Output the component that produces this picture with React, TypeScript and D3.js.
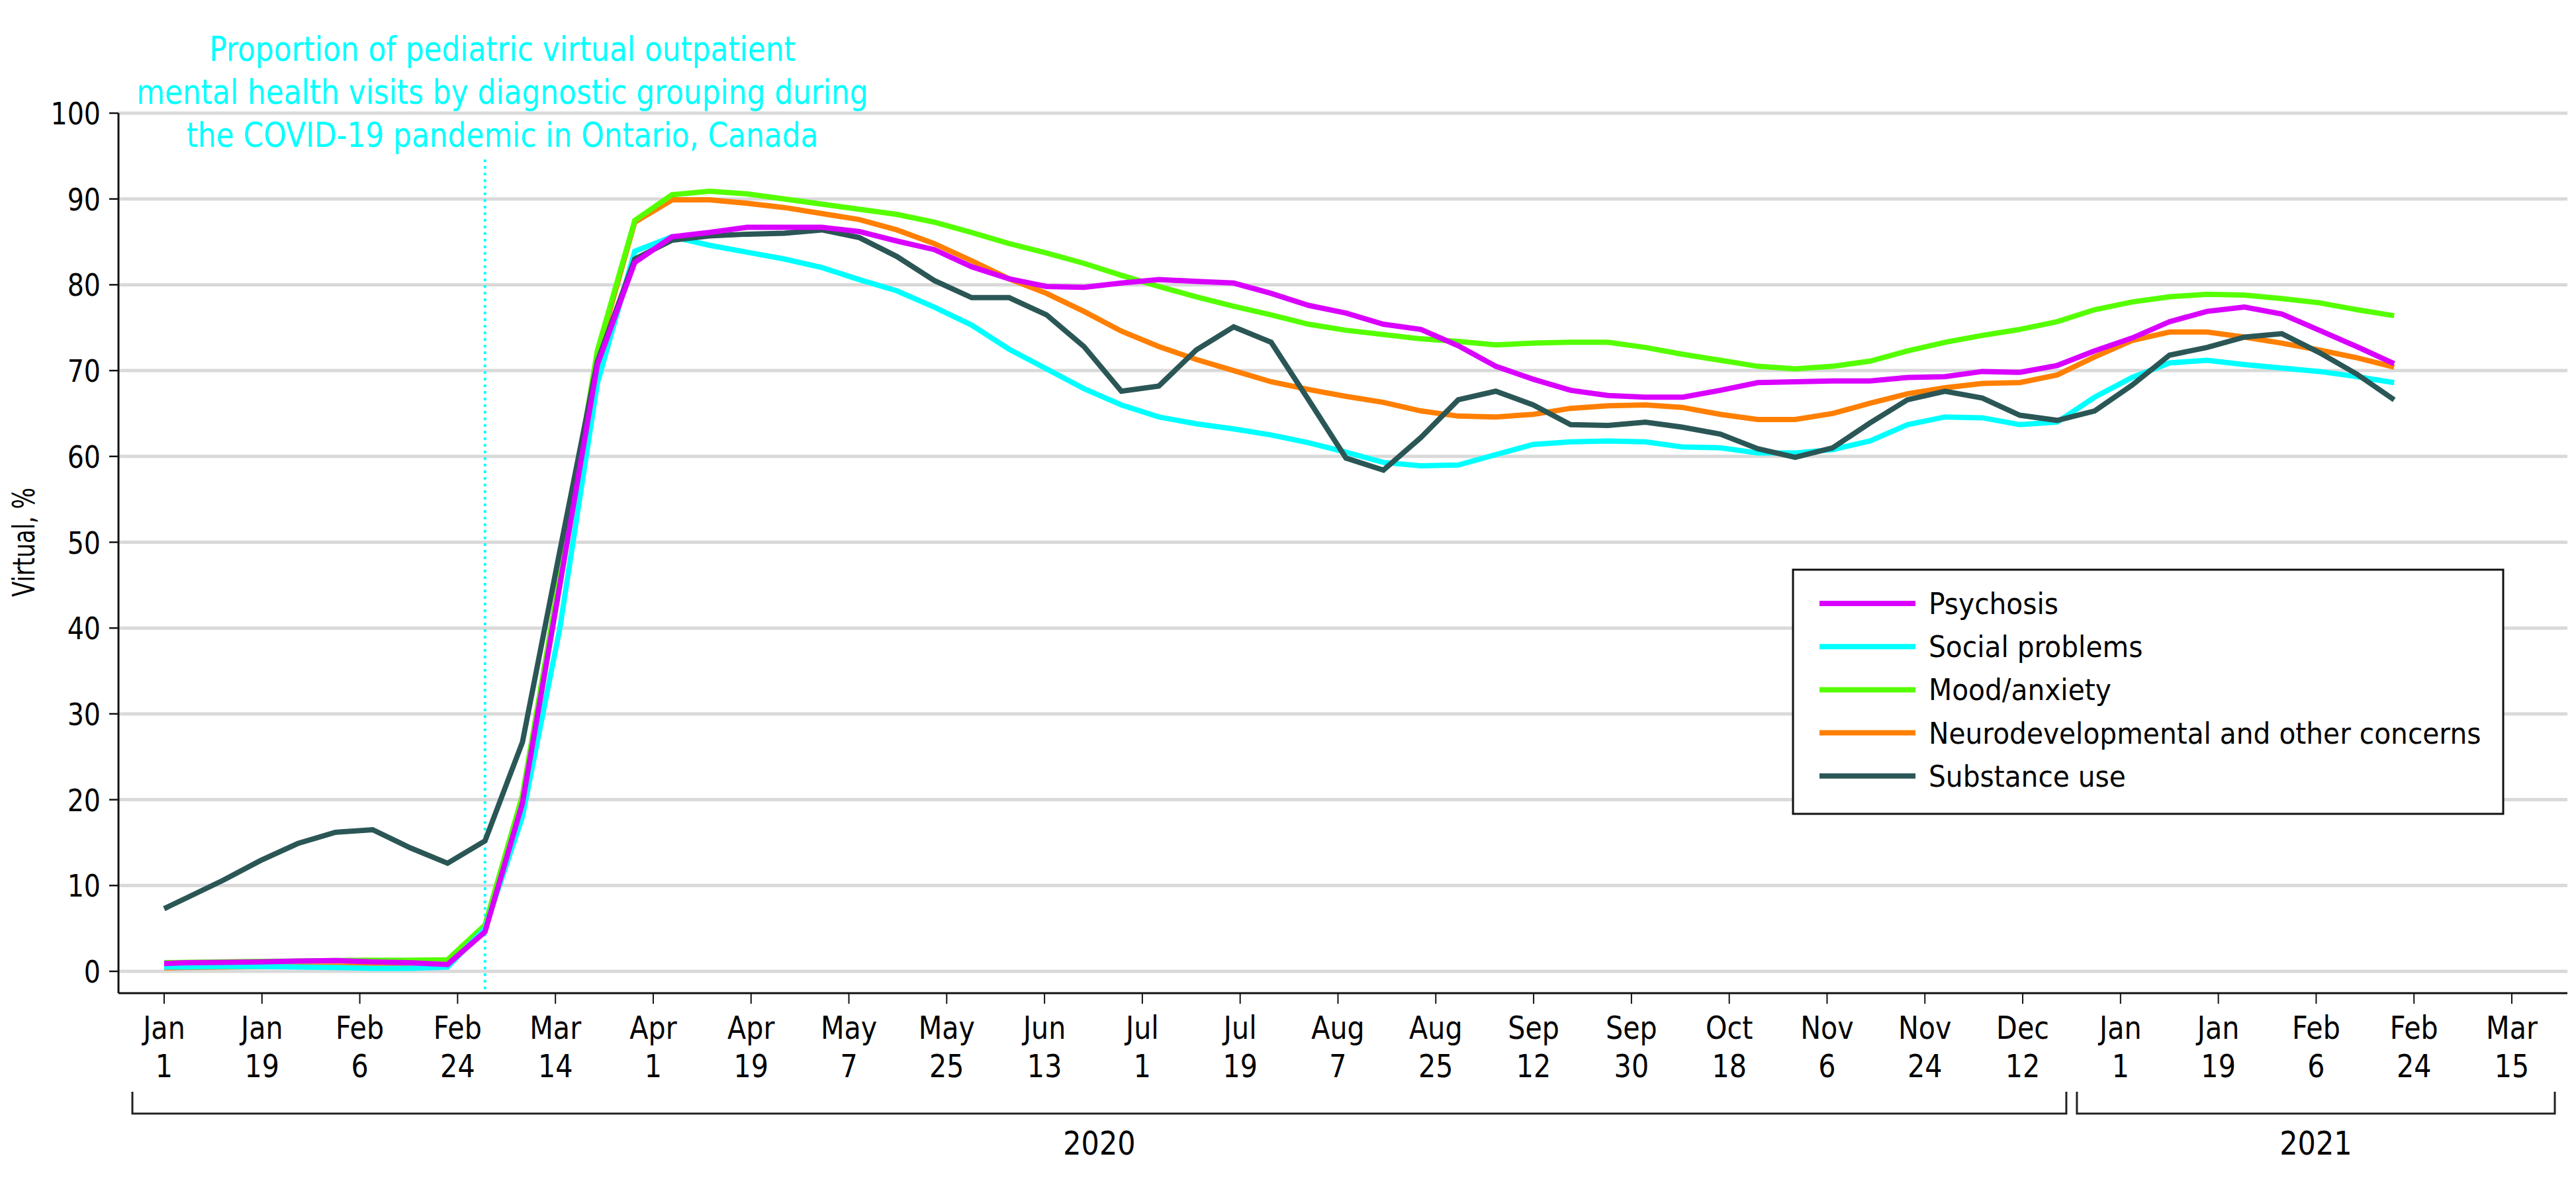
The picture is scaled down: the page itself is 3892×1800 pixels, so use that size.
import React from "react";
import * as d3 from "d3";

const dates = [
  "2020-01-01","2020-01-05","2020-01-12","2020-01-19","2020-01-26","2020-02-02","2020-02-09","2020-02-16","2020-02-23","2020-03-01",
  "2020-03-08","2020-03-15","2020-03-22","2020-03-29","2020-04-05","2020-04-12","2020-04-19","2020-04-26","2020-05-03","2020-05-10",
  "2020-05-17","2020-05-24","2020-05-31","2020-06-07","2020-06-14","2020-06-21","2020-06-28","2020-07-05","2020-07-12","2020-07-19",
  "2020-07-26","2020-08-02","2020-08-09","2020-08-16","2020-08-23","2020-08-30","2020-09-06","2020-09-13","2020-09-20","2020-09-27",
  "2020-10-04","2020-10-11","2020-10-18","2020-10-25","2020-11-01","2020-11-08","2020-11-15","2020-11-22","2020-11-29","2020-12-06",
  "2020-12-13","2020-12-20","2020-12-27","2021-01-03","2021-01-10","2021-01-17","2021-01-24","2021-01-31","2021-02-07","2021-02-14",
  "2021-02-21",
];

const psychosis = [
  0.9,1.0,1.05,1.1,1.2,1.25,1.1,1.0,0.8,4.6,
  19.6,45,70.7,82.6,85.6,86.1,86.7,86.7,86.7,86.2,
  85.1,84.1,82.1,80.7,79.8,79.7,80.2,80.6,80.4,80.2,
  79.0,77.6,76.7,75.4,74.8,72.9,70.5,69.0,67.7,67.1,
  66.9,66.9,67.7,68.6,68.7,68.8,68.8,69.2,69.3,69.9,
  69.8,70.6,72.3,73.8,75.7,76.9,77.4,76.6,74.7,72.8,
  70.8,
];
const socialProblems = [
  0.5,0.5,0.55,0.55,0.5,0.45,0.35,0.35,0.5,5.0,
  18,40,68.5,83.9,85.6,84.6,83.8,83.0,82.0,80.6,
  79.3,77.4,75.3,72.5,70.2,67.9,66.0,64.6,63.8,63.2,
  62.5,61.6,60.5,59.3,58.9,59.0,60.2,61.4,61.7,61.8,
  61.7,61.1,61.0,60.4,60.4,60.8,61.8,63.7,64.6,64.5,
  63.7,64.0,66.9,69.2,70.9,71.2,70.7,70.3,69.9,69.3,
  68.6,
];
const moodAnxiety = [
  1.0,1.05,1.1,1.15,1.2,1.25,1.3,1.3,1.35,5.4,
  20.5,46,72.3,87.5,90.5,90.9,90.6,90.0,89.4,88.8,
  88.2,87.3,86.1,84.8,83.7,82.5,81.1,79.8,78.6,77.5,
  76.5,75.4,74.7,74.2,73.7,73.4,73.0,73.2,73.3,73.3,
  72.7,71.9,71.2,70.5,70.2,70.5,71.1,72.3,73.3,74.1,
  74.8,75.7,77.1,78.0,78.6,78.9,78.8,78.4,77.9,77.1,
  76.4,
];
const neurodevelopmental = [
  0.4,0.45,0.5,0.55,0.6,0.6,0.6,0.6,0.7,5.2,
  20,46,71.8,87.3,89.9,89.9,89.5,89.0,88.3,87.6,
  86.4,84.8,82.8,80.7,79.0,76.9,74.6,72.8,71.3,70.0,
  68.7,67.8,67.0,66.3,65.3,64.7,64.6,64.9,65.6,65.9,
  66.0,65.7,64.9,64.3,64.3,65.0,66.2,67.3,68.0,68.5,
  68.6,69.5,71.6,73.5,74.5,74.5,73.9,73.2,72.4,71.5,
  70.4,
];
const substanceUse = [
  7.3,8.5,10.6,12.9,14.9,16.2,16.5,14.4,12.6,15.2,
  26.7,49,71,83.0,85.2,85.7,85.9,86.0,86.4,85.5,
  83.3,80.5,78.5,78.5,76.5,72.8,67.6,68.2,72.4,75.1,
  73.3,66.6,59.8,58.4,62.2,66.6,67.6,66.0,63.7,63.6,
  64.0,63.4,62.6,60.9,59.9,61.0,63.9,66.6,67.6,66.8,
  64.8,64.2,65.3,68.3,71.8,72.7,73.9,74.3,72.1,69.6,
  66.6,
];

const seriesNames = ["Psychosis", "Social problems", "Mood/anxiety", "Neurodevelopmental and other concerns", "Substance use"];
const seriesColors = ["#d900ff", "#00ffff", "#55ff00", "#ff7f00", "#2b5656"];
const seriesValues = [psychosis, socialProblems, moodAnxiety, neurodevelopmental, substanceUse];
const drawOrder = [3, 2, 1, 4, 0];

const yTicks = [0, 10, 20, 30, 40, 50, 60, 70, 80, 90, 100];
const tickMonths = ["Jan","Jan","Feb","Feb","Mar","Apr","Apr","May","May","Jun","Jul","Jul","Aug","Aug","Sep","Sep","Oct","Nov","Nov","Dec","Jan","Jan","Feb","Feb","Mar"];
const tickDays = ["1","19","6","24","14","1","19","7","25","13","1","19","7","25","12","30","18","6","24","12","1","19","6","24","15"];
const yearLabels = ["2020", "2021"];
const titleLines = [
  "Proportion of pediatric virtual outpatient",
  "mental health visits by diagnostic grouping during",
  "the COVID-19 pandemic in Ontario, Canada",
];
const pandemicDate = "2020-03-01";
const axisStart = "2020-01-01";
const axisEnd = "2021-03-15";
const yTitle = "Virtual, %";

const FONT = "DejaVu Sans";
const SX = 0.86;

function T({ x, y, size, anchor = "middle", fill = "#000", rotate = 0, sx = SX, children }: any) {
  return (
    <text
      transform={`translate(${x},${y}) rotate(${rotate}) scale(${sx},1)`}
      fontSize={size}
      textAnchor={anchor}
      fill={fill}
      fontFamily={FONT}
    >
      {children}
    </text>
  );
}

export default function App() {
  const W = 3892, H = 1800;
  const parse = d3.utcParse("%Y-%m-%d");
  const d0 = parse(axisStart)!, d1 = parse(axisEnd)!;
  const x = d3.scaleUtc().domain([d0, d1]).range([248, 3795]);
  const y = d3.scaleLinear().domain([0, 100]).range([1468, 171]);
  const plotLeft = 179, plotRight = 3879, axisY = 1501;

  const parsedDates = dates.map((d) => parse(d)!);
  const line = d3.line<number>().x((_, i) => x(parsedDates[i])).y((v) => y(v));

  const nT = tickMonths.length;
  const tickDates = d3.range(nT).map((i) => new Date(+d0 + (i * (+d1 - +d0)) / (nT - 1)));
  const tickX = tickDates.map((d) => x(d));
  const yearSplit = (tickX[19] + tickX[20]) / 2;
  const brackets = [
    { label: yearLabels[0], x0: tickX[0] - 48, x1: yearSplit - 8 },
    { label: yearLabels[1], x0: yearSplit + 8, x1: tickX[nT - 1] + 65 },
  ];
  const px = x(parse(pandemicDate)!);

  const legend = { x: 2709, y: 861, w: 1073, h: 369 };

  return (
    <div style={{ position: "absolute", left: 0, top: 0 }}>
      <svg width={W} height={H} viewBox={`0 0 ${W} ${H}`} style={{ display: "block", background: "#fff" }}>
        <rect x={0} y={0} width={W} height={H} fill="#fff" />
        {/* gridlines */}
        {yTicks.map((t) => (
          <line key={"g" + t} x1={plotLeft} x2={plotRight} y1={y(t)} y2={y(t)} stroke="#d9d9d9" strokeWidth={5} />
        ))}
        {/* y axis */}
        <line x1={plotLeft} x2={plotLeft} y1={y(100)} y2={axisY} stroke="#111" strokeWidth={3} />
        {yTicks.map((t) => (
          <g key={"yt" + t}>
            <line x1={plotLeft - 14} x2={plotLeft} y1={y(t)} y2={y(t)} stroke="#111" strokeWidth={2.5} />
            <T x={152} y={y(t) + 17} size={46} anchor="end">{String(t)}</T>
          </g>
        ))}
        <T x={52} y={y(50)} size={46} rotate={-90} sx={0.74}>{yTitle}</T>
        {/* x axis */}
        <line x1={plotLeft} x2={plotRight} y1={axisY} y2={axisY} stroke="#111" strokeWidth={3} />
        {tickX.map((tx, i) => (
          <g key={"xt" + i}>
            <line x1={tx} x2={tx} y1={axisY} y2={axisY + 16} stroke="#111" strokeWidth={2} />
            <T x={tx} y={1570} size={48}>{tickMonths[i]}</T>
            <T x={tx} y={1628} size={48}>{tickDays[i]}</T>
          </g>
        ))}
        {brackets.map((b) => (
          <g key={b.label}>
            <path
              d={`M${b.x0},1650 V1683 H${b.x1} V1650`}
              fill="none"
              stroke="#222"
              strokeWidth={3}
            />
            <T x={(b.x0 + b.x1) / 2} y={1745} size={50}>{b.label}</T>
          </g>
        ))}
        {/* pandemic marker */}
        <line
          x1={px}
          x2={px}
          y1={243}
          y2={1497}
          stroke="#00ffff"
          strokeWidth={4.5}
          strokeDasharray="0 10"
          strokeLinecap="round"
        />
        {/* lines */}
        {drawOrder.map((si) => (
          <path
            key={"s" + si}
            d={line(seriesValues[si]) || ""}
            fill="none"
            stroke={seriesColors[si]}
            strokeWidth={8}
            strokeLinejoin="miter"
          />
        ))}
        {/* title */}
        {titleLines.map((t, i) => (
          <T key={"t" + i} x={759} y={92 + i * 65} size={51} fill="#00ffff">{t}</T>
        ))}
        {/* legend */}
        <rect x={legend.x} y={legend.y} width={legend.w} height={legend.h} fill="#fff" stroke="#111" strokeWidth={3} />
        {seriesNames.map((n, i) => {
          const cy = 912 + i * 65.2;
          return (
            <g key={"l" + i}>
              <line x1={2749} x2={2894} y1={cy} y2={cy} stroke={seriesColors[i]} strokeWidth={8} />
              <T x={2914} y={cy + 16} size={45} anchor="start" sx={0.905}>{n}</T>
            </g>
          );
        })}
      </svg>
    </div>
  );
}
